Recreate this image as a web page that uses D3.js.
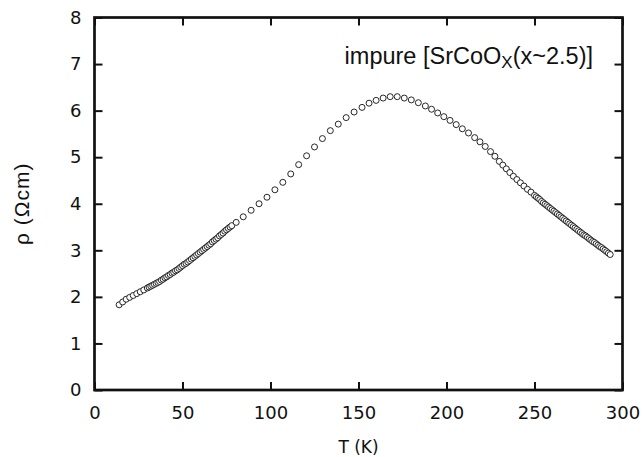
<!DOCTYPE html>
<html>
<head>
<meta charset="utf-8">
<script src="https://cdn.jsdelivr.net/npm/d3@7"></script>
<style>
  body { margin: 0; background: #fff; }
  .axis text { font-family: "DejaVu Sans", sans-serif; font-size: 18px; fill: #111; }
  .axis line { stroke: #111; stroke-width: 2; }
</style>
</head>
<body>
<div id="chart"></div>
<script>
// temperature (K) of each measured point
var temps = [
  14, 16, 18, 20, 22, 24, 26, 28, 30, 31, 32, 33, 34, 35, 36, 37, 38, 39, 40,
  41, 42, 43, 44, 45, 46, 47, 48, 49, 50, 51, 52, 53, 54, 55, 56, 57, 58, 59,
  60, 61, 62, 63, 64, 65, 66, 67, 68, 69, 70, 71, 72, 73, 74, 75, 76, 77, 78,
  80.5, 84.5, 89, 93.5, 98, 102.5, 107, 111.5, 116, 120.5, 125, 129.5, 134,
  138.5, 143, 147.5, 152, 156, 160, 164, 168, 172, 176, 180, 184, 188, 191.5,
  195, 198.5, 202, 205.5, 209, 212.5, 216, 219, 222, 225, 227.5, 230, 232,
  234, 236, 238, 240, 242, 244, 246, 248,
  250, 251, 252, 253, 254, 255, 256, 257, 258, 259, 260, 261, 262, 263, 264,
  265, 266, 267, 268, 269, 270, 271, 272, 273, 274, 275, 276, 277, 278, 279,
  280, 281, 282, 283, 284, 285, 286, 287, 288, 289, 290, 291, 292, 293
]

// resistivity (Ohm cm)
var rho = [
  1.83, 1.89, 1.95, 1.99, 2.03, 2.07, 2.11, 2.15, 2.19, 2.21, 2.23, 2.25, 2.27, 2.29, 2.31, 2.33, 2.36, 2.38, 2.41,
  2.43, 2.46, 2.48, 2.51, 2.53, 2.56, 2.58, 2.61, 2.64, 2.67, 2.70, 2.72, 2.75, 2.78, 2.81, 2.84, 2.87, 2.90, 2.93,
  2.96, 2.99, 3.02, 3.05, 3.08, 3.11, 3.14, 3.18, 3.21, 3.24, 3.27, 3.31, 3.34, 3.37, 3.41, 3.44, 3.47, 3.50, 3.53,
  3.60, 3.72, 3.86, 4.00, 4.14, 4.30, 4.46, 4.64, 4.84, 5.03, 5.22, 5.40, 5.57,
  5.71, 5.85, 5.97, 6.07, 6.16, 6.22, 6.27, 6.30, 6.30, 6.27, 6.23, 6.17, 6.10, 6.03,
  5.95, 5.87, 5.79, 5.70, 5.61, 5.52, 5.42, 5.33, 5.23, 5.12, 5.02, 4.91, 4.83,
  4.75, 4.67, 4.59, 4.52, 4.45, 4.38, 4.31, 4.25,
  4.18, 4.15, 4.12, 4.09, 4.05, 4.02, 3.99, 3.96, 3.93, 3.90, 3.87, 3.84, 3.81, 3.78, 3.75,
  3.72, 3.69, 3.66, 3.63, 3.60, 3.57, 3.54, 3.51, 3.48, 3.45, 3.42, 3.39, 3.36, 3.33, 3.31,
  3.28, 3.25, 3.22, 3.19, 3.17, 3.14, 3.11, 3.08, 3.06, 3.03, 3.00, 2.97, 2.94, 2.91
]

var xTicks = [0, 50, 100, 150, 200, 250, 300]
var yTicks = [0, 1, 2, 3, 4, 5, 6, 7, 8]

var xTitle = 'T (K)'
var yTitle = 'ρ (Ωcm)'

/**  set chart design */
var width = 643,
  height = 457,
  plotLeft = 94.5,
  plotRight = 622.5,
  plotTop = 17.5,
  plotBottom = 390;

var x = d3.scaleLinear().domain([0, 300]).range([plotLeft, plotRight])
var y = d3.scaleLinear().domain([0, 8]).range([plotBottom, plotTop])

var svg = d3.select('#chart').append('svg')
  .attr('width', width)
  .attr('height', height)

// ticks pointing inward on all four sides
svg.append('g')
  .attr('class', 'axis')
  .attr('transform', 'translate(0,' + plotBottom + ')')
  .call(d3.axisBottom(x).tickValues(xTicks).tickSize(-8).tickPadding(16))

svg.append('g')
  .attr('class', 'axis')
  .attr('transform', 'translate(0,' + plotTop + ')')
  .call(d3.axisTop(x).tickValues(xTicks).tickSize(-8).tickFormat(''))

svg.append('g')
  .attr('class', 'axis')
  .attr('transform', 'translate(' + plotLeft + ',0)')
  .call(d3.axisLeft(y).tickValues(yTicks).tickSize(-8).tickPadding(13))

svg.append('g')
  .attr('class', 'axis')
  .attr('transform', 'translate(' + plotRight + ',0)')
  .call(d3.axisRight(y).tickValues(yTicks).tickSize(-8).tickFormat(''))

svg.selectAll('.axis .domain').remove()

// frame
svg.append('rect')
  .attr('x', plotLeft)
  .attr('y', plotTop)
  .attr('width', plotRight - plotLeft)
  .attr('height', plotBottom - plotTop)
  .style('fill', 'none')
  .style('stroke', '#111')
  .style('stroke-width', 2.7)

// data points
svg.append('g')
  .selectAll('circle')
  .data(temps)
  .enter().append('circle')
  .attr('cx', function (d) { return x(d) })
  .attr('cy', function (d, i) { return y(rho[i]) })
  .attr('r', 3)
  .style('fill', '#fff')
  .style('stroke', '#111')
  .style('stroke-width', 0.9)

// axis titles
svg.append('text')
  .attr('x', (plotLeft + plotRight) / 2)
  .attr('y', 453)
  .attr('text-anchor', 'middle')
  .style('font-family', '"DejaVu Sans", sans-serif')
  .style('font-size', '17px')
  .style('fill', '#111')
  .text(xTitle)

svg.append('text')
  .attr('transform', 'translate(29,' + (plotTop + plotBottom) / 2 + ') rotate(-90)')
  .attr('text-anchor', 'middle')
  .style('font-family', '"Liberation Sans", sans-serif')
  .style('font-size', '21px')
  .style('letter-spacing', '1px')
  .style('fill', '#111')
  .text(yTitle)

// annotation
var note = svg.append('text')
  .attr('x', 593)
  .attr('y', 64)
  .attr('text-anchor', 'end')
  .style('font-family', '"Liberation Sans", sans-serif')
  .style('font-size', '23.5px')
  .style('fill', '#111')

note.append('tspan').text('impure  [SrCoO')
note.append('tspan').attr('dy', 4).style('font-size', '17px').text('X')
note.append('tspan').attr('dy', -4).text('(x~2.5)]')
</script>
</body>
</html>
